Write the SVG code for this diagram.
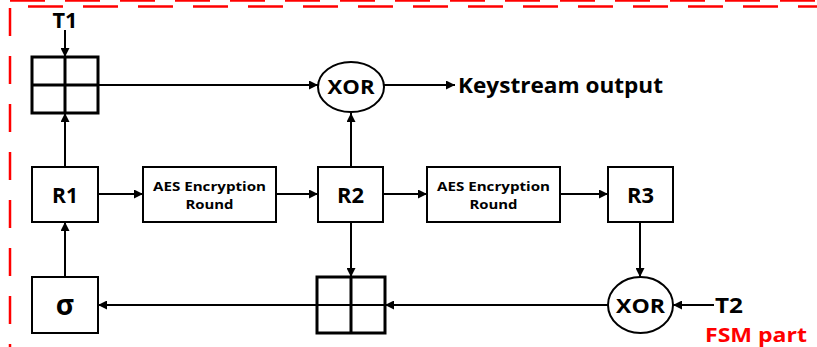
<svg xmlns="http://www.w3.org/2000/svg" width="817" height="347" viewBox="0 0 817 347">
<defs>
<marker id="ah" viewBox="0 0 10 10" refX="10" refY="5" markerWidth="9" markerHeight="9" markerUnits="userSpaceOnUse" orient="auto">
<path d="M0,0 L10,5 L0,10 z" fill="#000"/>
</marker>
<style>
.box{fill:#fff;stroke:#000;stroke-width:2}
.plus{fill:#fff;stroke:#000;stroke-width:3}
.ell{fill:#fff;stroke:#000;stroke-width:2}
.t{font-family:"Open Sans","Liberation Sans",sans-serif;font-weight:bold;fill:#000;text-anchor:middle}
.conn line{stroke:#000;stroke-width:2;marker-end:url(#ah)}
.red{stroke:#ff0000;stroke-width:2.5;fill:none}
</style>
</defs>
<g id="frame">
<line class="red" x1="10" y1="0.5" x2="817" y2="0.5" stroke-dasharray="35 20"/>
<line class="red" x1="28" y1="6.5" x2="817" y2="6.5" stroke-dasharray="35 20"/>
<line class="red" x1="10" y1="8" x2="10" y2="347" stroke-dasharray="28 20"/>
</g>
<g class="conn">
<line x1="65" y1="30" x2="65" y2="57"/>
<line x1="65" y1="167" x2="65" y2="113"/>
<line x1="98" y1="85" x2="318" y2="85"/>
<line x1="384" y1="85" x2="455" y2="85"/>
<line x1="351" y1="167" x2="351" y2="113"/>
<line x1="98" y1="194" x2="143" y2="194"/>
<line x1="276" y1="194" x2="318" y2="194"/>
<line x1="383" y1="194" x2="427" y2="194"/>
<line x1="560" y1="194" x2="608" y2="194"/>
<line x1="640" y1="222" x2="640" y2="277"/>
<line x1="714" y1="305" x2="673" y2="305"/>
<line x1="608" y1="305" x2="385" y2="305"/>
<line x1="351" y1="222" x2="351" y2="277"/>
<line x1="317" y1="305" x2="98" y2="305"/>
<line x1="65" y1="277" x2="65" y2="222"/>
</g>
<g id="T1"><text class="t" x="65" y="28" font-size="21" textLength="25" lengthAdjust="spacingAndGlyphs">T1</text></g>
<g id="plus1">
<rect class="plus" x="32" y="57" width="66" height="56"/>
<line x1="65" y1="57" x2="65" y2="113" stroke="#000" stroke-width="3"/>
<line x1="32" y1="85" x2="98" y2="85" stroke="#000" stroke-width="3"/>
</g>
<g id="xor1">
<ellipse class="ell" cx="351" cy="87" rx="33" ry="25"/>
<text class="t" x="351" y="94" font-size="20" textLength="47" lengthAdjust="spacingAndGlyphs">XOR</text>
</g>
<g id="keystream"><text class="t" x="458" y="93" font-size="21" textLength="205" lengthAdjust="spacingAndGlyphs" style="text-anchor:start">Keystream output</text></g>
<g id="R1"><rect class="box" x="32" y="167" width="66" height="55"/><text class="t" x="65" y="203" font-size="21" textLength="26" lengthAdjust="spacingAndGlyphs">R1</text></g>
<g id="aes1"><rect class="box" x="143" y="167" width="133" height="55"/>
<text class="t" x="209.5" y="191" font-size="13" textLength="113" lengthAdjust="spacingAndGlyphs">AES Encryption</text>
<text class="t" x="209.5" y="209" font-size="13" textLength="48" lengthAdjust="spacingAndGlyphs">Round</text></g>
<g id="R2"><rect class="box" x="318" y="167" width="65" height="55"/><text class="t" x="350.5" y="203" font-size="21" textLength="27" lengthAdjust="spacingAndGlyphs">R2</text></g>
<g id="aes2"><rect class="box" x="427" y="167" width="133" height="55"/>
<text class="t" x="493.5" y="191" font-size="13" textLength="113" lengthAdjust="spacingAndGlyphs">AES Encryption</text>
<text class="t" x="493.5" y="209" font-size="13" textLength="48" lengthAdjust="spacingAndGlyphs">Round</text></g>
<g id="R3"><rect class="box" x="608" y="167" width="65" height="55"/><text class="t" x="640.5" y="203" font-size="21" textLength="27" lengthAdjust="spacingAndGlyphs">R3</text></g>
<g id="sigma"><rect class="box" x="32" y="277" width="66" height="56"/><text class="t" x="65" y="315" font-size="28">σ</text></g>
<g id="plus2">
<rect class="plus" x="317" y="277" width="68" height="56"/>
<line x1="351" y1="277" x2="351" y2="333" stroke="#000" stroke-width="3"/>
<line x1="317" y1="305" x2="385" y2="305" stroke="#000" stroke-width="2"/>
</g>
<g id="xor2">
<ellipse class="ell" cx="640.5" cy="305" rx="32.5" ry="28"/>
<text class="t" x="640.5" y="313" font-size="20" textLength="49" lengthAdjust="spacingAndGlyphs">XOR</text>
</g>
<g id="T2"><text class="t" x="729" y="313" font-size="21" textLength="28" lengthAdjust="spacingAndGlyphs">T2</text></g>
<g id="fsm"><text class="t" x="756" y="342" font-size="19" textLength="102" lengthAdjust="spacingAndGlyphs" style="fill:#ff0000">FSM part</text></g>
</svg>
